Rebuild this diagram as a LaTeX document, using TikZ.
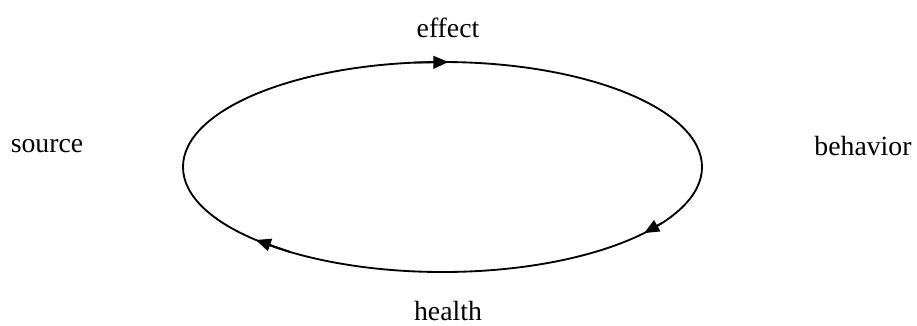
\documentclass[tikz,border=0pt]{standalone}
\usepackage{fontspec}
\setmainfont{Liberation Serif}
\usetikzlibrary{arrows.meta,calc}

\begin{document}
\begin{tikzpicture}[x=0.0152cm, y=0.0152cm, font=\fontsize{12}{14}\selectfont,
      loop/.style={draw=black, line width=0.8pt},
      tip/.style={line width=0.8pt, -{Triangle[length=6.5pt,width=5.5pt]}},
      lbl/.style={inner sep=0pt}]

    \useasboundingbox (0,0) rectangle (917,325);

    \coordinate (c) at (442.5,158);
    \draw[loop] (c) ellipse [x radius=259.5, y radius=105];

    \node[lbl] (effect)   at (448,297) {effect};
    \node[lbl] (source)   at (47,179)  {source};
    \node[lbl] (behavior) at (863,179) {behavior};
    \node[lbl] (health)   at (448,14)  {health};

    \coordinate (t1a) at ($(c)+(96:259.5 and 105)$);
    \coordinate (t1b) at ($(c)+(88.7:259.5 and 105)$);
    \coordinate (t2a) at ($(c)+(-32:259.5 and 105)$);
    \coordinate (t2b) at ($(c)+(-39:259.5 and 105)$);
    \coordinate (t3a) at ($(c)+(-126:259.5 and 105)$);
    \coordinate (t3b) at ($(c)+(-136:259.5 and 105)$);

    \draw[tip] (t1a) -- (t1b);
    \draw[tip] (t2a) -- (t2b);
    \draw[tip] (t3a) -- (t3b);
  \end{tikzpicture}
\end{document}
